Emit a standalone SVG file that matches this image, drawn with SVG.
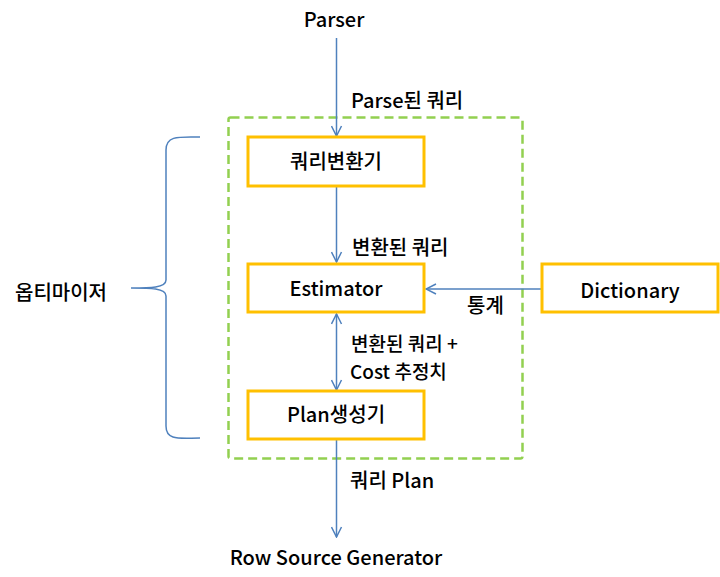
<svg xmlns="http://www.w3.org/2000/svg" width="720" height="577" viewBox="0 0 720 577">
<defs>
<style>
.t{font-family:"Noto Sans CJK KR","Noto Sans",sans-serif;font-size:20px;font-weight:500;fill:#000}
.s{font-size:19px}
.box{fill:#fff;stroke:#FFC000;stroke-width:3}
.ln{fill:none;stroke:#4F81BD;stroke-width:1.5}
</style>
<marker id="ah" viewBox="0 0 12 12" refX="11" refY="6" markerWidth="12" markerHeight="12" markerUnits="userSpaceOnUse" orient="auto-start-reverse">
<path d="M1,1 L11,6 L1,11" fill="none" stroke="#4F81BD" stroke-width="1.5"/>
</marker>
</defs>
<rect width="720" height="577" fill="#fff"/>
<rect id="optimizer-frame" x="228.5" y="117.5" width="294" height="341" fill="none" stroke="#92D050" stroke-width="2.5" stroke-dasharray="9,5" rx="2"/>
<g id="connectors">
<line class="ln" x1="336.5" y1="38" x2="336.5" y2="136" marker-end="url(#ah)"/>
<line class="ln" x1="336.5" y1="187" x2="336.5" y2="262" marker-end="url(#ah)"/>
<line class="ln" x1="541" y1="289" x2="426" y2="289" marker-end="url(#ah)"/>
<line class="ln" x1="336.5" y1="314" x2="336.5" y2="390" marker-start="url(#ah)" marker-end="url(#ah)"/>
<line class="ln" x1="336.5" y1="440" x2="336.5" y2="537" marker-end="url(#ah)"/>
<path class="ln" d="M200,137 C180,137 166,135 166,150 L166,280 C166,288 150,288 131,288 C150,288 166,288 166,296 L166,426 C166,441 180,438 200,438"/>
</g>
<g id="n-transformer"><rect class="box" x="248" y="137" width="176" height="49"/><text class="t" x="336" y="169" text-anchor="middle">쿼리변환기</text></g>
<g id="n-estimator"><rect class="box" x="248" y="264" width="176" height="48"/><text class="t" x="336" y="296" text-anchor="middle">Estimator</text></g>
<g id="n-plan"><rect class="box" x="248" y="391" width="176" height="48"/><text class="t" x="336" y="422" text-anchor="middle">Plan생성기</text></g>
<g id="n-dictionary"><rect class="box" x="542" y="264" width="176" height="48"/><text class="t" x="630" y="298" text-anchor="middle">Dictionary</text></g>
<g id="labels">
<text class="t" x="334" y="27" text-anchor="middle">Parser</text>
<text class="t" x="351" y="108">Parse된 쿼리</text>
<text class="t" x="352" y="255">변환된 쿼리</text>
<text class="t" x="467" y="313">통계</text>
<text class="t s" x="351" y="351">변환된 쿼리 +</text>
<text class="t s" x="350" y="379">Cost 추정치</text>
<text class="t" x="350" y="488">쿼리 Plan</text>
<text class="t" x="336" y="565" text-anchor="middle">Row Source Generator</text>
<text class="t" x="15" y="300">옵티마이저</text>
</g>
</svg>
